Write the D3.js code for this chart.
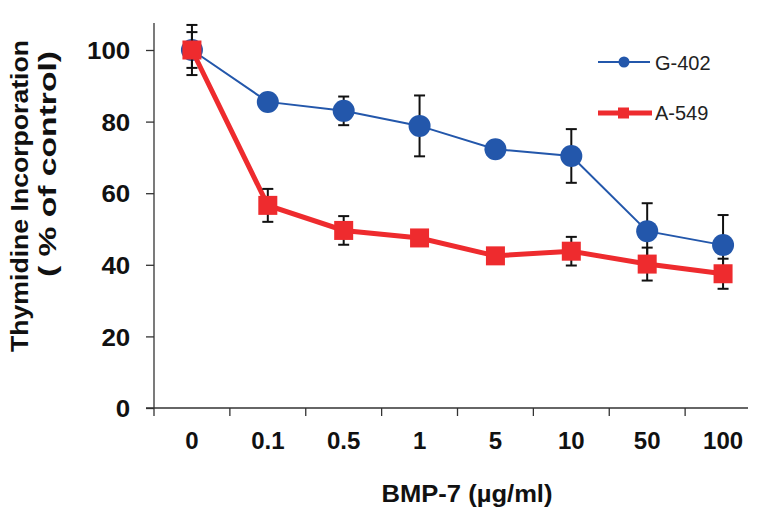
<!DOCTYPE html>
<html>
<head>
<meta charset="utf-8">
<script src="https://cdn.jsdelivr.net/npm/d3@7"></script>
<style>
  body { margin: 0; background: #fff; }
  text { font-family: "Liberation Sans", Arial, sans-serif; }
</style>
</head>
<body>
<div id="chart"></div>
<script>
var doses = ["0", "0.1", "0.5", "1", "5", "10", "50", "100"];
var g402 = [100, 85.5, 83, 78.8, 72.3, 70.4, 49.4, 45.5];
var g402Err = [7, 0, 4, 8.5, 0, 7.5, 7.8, 8.4];
var a549 = [100, 56.6, 49.6, 47.5, 42.5, 43.8, 40.2, 37.5];
var a549Err = [5, 4.6, 4, 1.5, 0, 4, 4.6, 4.2];
var yTicks = [0, 20, 40, 60, 80, 100];

var svgWidth = 766;
var svgHeight = 515;

var svg = d3.select("#chart")
  .append("svg")
  .attr("width", svgWidth)
  .attr("height", svgHeight);

var xScale = d3.scaleBand()
  .domain(doses)
  .range([154, 761])
  .padding(0);

var yScale = d3.scaleLinear()
  .domain([0, 100])
  .range([408, 50]);

// y axis
var leftAxis = d3.axisLeft(yScale)
  .tickValues(yTicks)
  .tickSize(8)
  .tickPadding(14)
  .tickSizeOuter(0);

var yAxisG = svg.append("g")
  .attr("transform", "translate(154,0)")
  .call(leftAxis);
yAxisG.select(".domain").remove();
yAxisG.selectAll("line").attr("stroke", "#333").attr("stroke-width", 1.3);
yAxisG.selectAll("text")
  .attr("font-size", 24)
  .attr("font-weight", "bold")
  .attr("fill", "#111")
  .attr("dy", "0.36em")
  .attr("transform", "scale(1.08,1)");
svg.append("line")
  .attr("x1", 154).attr("x2", 154)
  .attr("y1", 23).attr("y2", yScale(0))
  .attr("stroke", "#333").attr("stroke-width", 1.3);

// x axis: ticks between categories
svg.append("line")
  .attr("x1", 146).attr("x2", 748)
  .attr("y1", yScale(0)).attr("y2", yScale(0))
  .attr("stroke", "#333").attr("stroke-width", 1.3);

svg.selectAll(".xtick")
  .data(doses)
  .enter()
  .append("line")
  .attr("class", "xtick")
  .attr("x1", d => xScale(d))
  .attr("x2", d => xScale(d))
  .attr("y1", yScale(0))
  .attr("y2", yScale(0) + 8)
  .attr("stroke", "#333").attr("stroke-width", 1.3);

svg.selectAll(".xlabel")
  .data(doses)
  .enter()
  .append("text")
  .attr("class", "xlabel")
  .attr("x", d => xScale(d) + xScale.bandwidth() / 2)
  .attr("y", 449)
  .attr("text-anchor", "middle")
  .attr("font-size", 24)
  .attr("font-weight", "bold")
  .attr("fill", "#111")
  .text(d => d);

var cx = d => xScale(d) + xScale.bandwidth() / 2;

function drawSeries(vals, errs, color, lineW, shape) {
  var line = d3.line()
    .x((v, i) => cx(doses[i]))
    .y(v => yScale(v));

  svg.append("path")
    .datum(vals)
    .attr("fill", "none")
    .attr("stroke", color)
    .attr("stroke-width", lineW)
    .attr("d", line);

  var eb = svg.append("g");
  vals.forEach(function(v, i) {
    if (!errs[i]) return;
    var x = cx(doses[i]);
    eb.append("line")
      .attr("x1", x).attr("x2", x)
      .attr("y1", yScale(v + errs[i])).attr("y2", yScale(v - errs[i]))
      .attr("stroke", "#111").attr("stroke-width", 2);
    [v + errs[i], v - errs[i]].forEach(function(e) {
      eb.append("line")
        .attr("x1", x - 5.5).attr("x2", x + 5.5)
        .attr("y1", yScale(e)).attr("y2", yScale(e))
        .attr("stroke", "#111").attr("stroke-width", 2);
    });
  });

  if (shape === "circle") {
    svg.selectAll(null)
      .data(vals)
      .enter()
      .append("circle")
      .attr("cx", (v, i) => cx(doses[i]))
      .attr("cy", v => yScale(v))
      .attr("r", 11)
      .attr("fill", color);
  } else {
    svg.selectAll(null)
      .data(vals)
      .enter()
      .append("rect")
      .attr("x", (v, i) => cx(doses[i]) - 9.5)
      .attr("y", v => yScale(v) - 9.5)
      .attr("width", 19)
      .attr("height", 19)
      .attr("fill", color);
  }
}

var blue = "#2357AB";
var red = "#EE2B2E";

drawSeries(g402, g402Err, blue, 2, "circle");
drawSeries(a549, a549Err, red, 5, "square");

// legend
var legend = svg.append("g");
legend.append("line")
  .attr("x1", 598).attr("x2", 650).attr("y1", 62).attr("y2", 62)
  .attr("stroke", blue).attr("stroke-width", 2);
legend.append("circle")
  .attr("cx", 624).attr("cy", 62).attr("r", 5.5).attr("fill", blue);
legend.append("text")
  .attr("x", 655).attr("y", 70)
  .attr("font-size", 20).attr("fill", "#222")
  .text("G-402");

legend.append("line")
  .attr("x1", 598).attr("x2", 652).attr("y1", 113).attr("y2", 113)
  .attr("stroke", red).attr("stroke-width", 5);
legend.append("rect")
  .attr("x", 618).attr("y", 107.5).attr("width", 11).attr("height", 11).attr("fill", red);
legend.append("text")
  .attr("x", 655).attr("y", 120)
  .attr("font-size", 20).attr("fill", "#222")
  .text("A-549");

// axis titles
svg.append("text")
  .attr("transform", "translate(28,196) rotate(-90)")
  .attr("text-anchor", "middle")
  .attr("font-size", 23)
  .attr("font-weight", "bold")
  .attr("fill", "#111")
  .attr("textLength", 312)
  .attr("lengthAdjust", "spacingAndGlyphs")
  .text("Thymidine Incorporation");

svg.append("text")
  .attr("transform", "translate(56,164) rotate(-90)")
  .attr("text-anchor", "middle")
  .attr("font-size", 23)
  .attr("font-weight", "bold")
  .attr("fill", "#111")
  .attr("textLength", 226)
  .attr("lengthAdjust", "spacingAndGlyphs")
  .text("( % of control)");

svg.append("text")
  .attr("x", 467)
  .attr("y", 502)
  .attr("text-anchor", "middle")
  .attr("font-size", 23)
  .attr("font-weight", "bold")
  .attr("fill", "#111")
  .attr("textLength", 171)
  .attr("lengthAdjust", "spacingAndGlyphs")
  .text("BMP-7 (µg/ml)");
</script>
</body>
</html>
